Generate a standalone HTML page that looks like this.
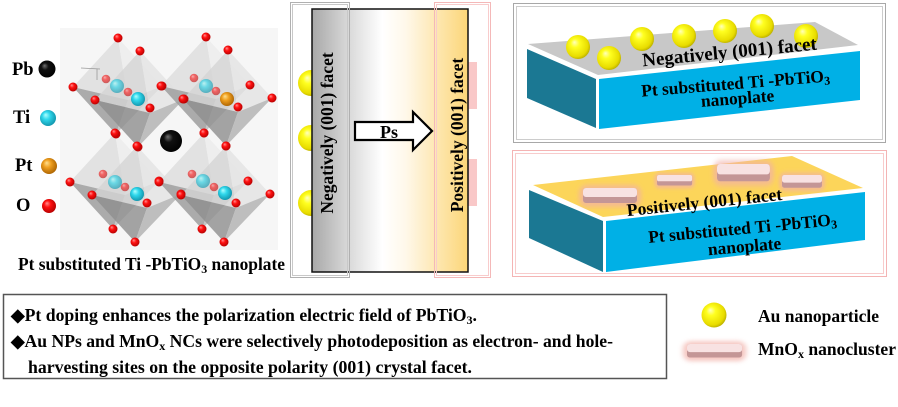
<!DOCTYPE html>
<html><head><meta charset="utf-8"><style>
html,body{margin:0;padding:0;background:#fff;}
svg{display:block;}
text{font-family:"Liberation Serif",serif;font-weight:bold;fill:#000;}
</style></head><body>
<svg width="898" height="407" viewBox="0 0 898 407" xmlns="http://www.w3.org/2000/svg">
<defs>
  <radialGradient id="gold" cx="0.45" cy="0.45" r="0.6" fx="0.35" fy="0.3">
    <stop offset="0" stop-color="#ffffc0"/><stop offset="0.3" stop-color="#ffff20"/>
    <stop offset="0.8" stop-color="#e8dc00"/><stop offset="1" stop-color="#b0a400"/>
  </radialGradient>
  <radialGradient id="red" cx="0.45" cy="0.45" r="0.6" fx="0.35" fy="0.3">
    <stop offset="0" stop-color="#ff9090"/><stop offset="0.4" stop-color="#ff1010"/><stop offset="1" stop-color="#b00000"/>
  </radialGradient>
  <radialGradient id="cyan" cx="0.45" cy="0.45" r="0.6" fx="0.35" fy="0.3">
    <stop offset="0" stop-color="#b0ffff"/><stop offset="0.4" stop-color="#30d8ec"/><stop offset="1" stop-color="#1090a8"/>
  </radialGradient>
  <radialGradient id="orange" cx="0.45" cy="0.45" r="0.6" fx="0.35" fy="0.3">
    <stop offset="0" stop-color="#ffe090"/><stop offset="0.4" stop-color="#f0a020"/><stop offset="1" stop-color="#a86000"/>
  </radialGradient>
  <radialGradient id="black" cx="0.45" cy="0.45" r="0.6" fx="0.35" fy="0.3">
    <stop offset="0" stop-color="#707070"/><stop offset="0.35" stop-color="#101010"/><stop offset="1" stop-color="#000"/>
  </radialGradient>
  <linearGradient id="mid" x1="0" y1="0" x2="1" y2="0">
    <stop offset="0" stop-color="#a8a8a8"/><stop offset="0.22" stop-color="#d6d6d6"/>
    <stop offset="0.45" stop-color="#ffffff"/><stop offset="0.6" stop-color="#fff8ea"/>
    <stop offset="1" stop-color="#fcd678"/>
  </linearGradient>
  <filter id="blur" x="-50%" y="-50%" width="200%" height="200%"><feGaussianBlur stdDeviation="2.5"/></filter>
  <g id="oct1">
    <polygon points="118,38 73,87 128,100" fill="#dedede" fill-opacity="0.85"/>
    <polygon points="118,38 128,100 162,86" fill="#ececec" fill-opacity="0.85"/>
    <polygon points="116,134 73,87 128,100" fill="#9e9e9e" fill-opacity="0.85"/>
    <polygon points="116,134 128,100 162,86" fill="#bdbdbd" fill-opacity="0.85"/>
  </g>
  <g id="oct2">
    <polygon points="140,51 95,100 150,113" fill="#d4d4d4" fill-opacity="0.8"/>
    <polygon points="140,51 150,113 184,99" fill="#e4e4e4" fill-opacity="0.8"/>
    <polygon points="138,147 95,100 150,113" fill="#8e8e8e" fill-opacity="0.8"/>
    <polygon points="138,147 150,113 184,99" fill="#b0b0b0" fill-opacity="0.8"/>
  </g>
  <g id="ored">
    <circle cx="106" cy="79" r="4.3" fill="url(#red)" opacity="0.6"/>
    <circle cx="128" cy="92" r="4.3" fill="url(#red)" opacity="0.6"/>
    <circle cx="118" cy="38" r="4.5" fill="url(#red)"/>
    <circle cx="140" cy="51" r="4.5" fill="url(#red)"/>
    <circle cx="73" cy="87" r="4.5" fill="url(#red)"/>
    <circle cx="95" cy="100" r="4.5" fill="url(#red)"/>
    <circle cx="162" cy="86" r="4.5" fill="url(#red)"/>
    <circle cx="184" cy="99" r="4.5" fill="url(#red)"/>
    <circle cx="150" cy="108" r="4.5" fill="url(#red)"/>
    <circle cx="116" cy="134" r="4.5" fill="url(#red)"/>
    <circle cx="138" cy="147" r="4.5" fill="url(#red)"/>
  </g>
  <g id="mnox">
    <rect x="-4" y="-3" width="62" height="22" rx="8" fill="#f2b0a8" opacity="0.7" filter="url(#blur)"/>
    <rect x="0" y="0" width="54" height="15" rx="3" fill="#c49696"/>
    <rect x="0" y="0" width="54" height="9" rx="3" fill="#f8e2e2"/>
  </g>
</defs>

<!-- LEFT: crystal -->
<rect x="60" y="28" width="218" height="222" fill="#f6f6f6"/>
<use href="#oct1"/><use href="#oct2"/>
<use href="#oct1" transform="translate(88,-1)"/><use href="#oct2" transform="translate(88,-1)"/>
<use href="#oct1" transform="translate(-3,95)"/><use href="#oct2" transform="translate(-3,95)"/>
<use href="#oct1" transform="translate(86,95)"/><use href="#oct2" transform="translate(86,95)"/>
<use href="#ored"/>
<use href="#ored" transform="translate(88,-1)"/>
<use href="#ored" transform="translate(-3,95)"/>
<use href="#ored" transform="translate(86,95)"/>
<circle cx="117" cy="86" r="7" fill="url(#cyan)" opacity="0.65"/>
<circle cx="138" cy="99" r="7" fill="url(#cyan)"/>
<circle cx="206" cy="86" r="7" fill="url(#cyan)" opacity="0.65"/>
<circle cx="227" cy="99" r="7" fill="url(#orange)"/>
<circle cx="115" cy="182" r="7" fill="url(#cyan)" opacity="0.65"/>
<circle cx="137" cy="194" r="7" fill="url(#cyan)"/>
<circle cx="203" cy="181" r="7" fill="url(#cyan)" opacity="0.65"/>
<circle cx="225" cy="193" r="7" fill="url(#cyan)"/>
<circle cx="171" cy="141" r="11" fill="url(#black)"/>
<path d="M81,68 L100,69 M97,69 L97,80" stroke="#999" stroke-width="0.8" fill="none"/>

<text x="12" y="75" font-size="18.5">Pb</text>
<circle cx="47" cy="69" r="8.5" fill="url(#black)"/>
<text x="13" y="123" font-size="18.5">Ti</text>
<circle cx="48" cy="118" r="8" fill="url(#cyan)"/>
<text x="15" y="171" font-size="18.5">Pt</text>
<circle cx="49" cy="166" r="8" fill="url(#orange)"/>
<text x="16" y="211" font-size="18.5">O</text>
<circle cx="49" cy="206" r="7" fill="url(#red)"/>

<text x="18" y="270" font-size="17.5" textLength="267" lengthAdjust="spacingAndGlyphs">Pt substituted Ti -PbTiO<tspan font-size="12" dy="3">3</tspan><tspan dy="-3"> nanoplate</tspan></text>

<!-- MIDDLE -->
<circle cx="311" cy="83" r="13" fill="url(#gold)"/>
<circle cx="311" cy="138" r="13" fill="url(#gold)"/>
<circle cx="311" cy="203" r="13" fill="url(#gold)"/>
<rect x="468" y="62" width="9" height="47" fill="#f9c8c8"/>
<rect x="468" y="159" width="9" height="47" fill="#f9c8c8"/>
<rect x="312" y="9" width="156" height="263" fill="url(#mid)" stroke="#111" stroke-width="1.5"/>
<rect x="290.5" y="2.5" width="59" height="275" fill="none" stroke="#b0b0b0" stroke-width="1"/>
<rect x="292.5" y="4.5" width="55" height="271" fill="none" stroke="#c8c8c8" stroke-width="1"/>
<rect x="434.5" y="2.5" width="56" height="275" fill="none" stroke="#f4b8b8" stroke-width="1"/>
<rect x="436.5" y="4.5" width="52" height="271" fill="none" stroke="#f8cccc" stroke-width="1"/>
<text transform="translate(333,133) rotate(-90)" text-anchor="middle" font-size="17.5">Negatively (001) facet</text>
<text transform="translate(463,135) rotate(-90)" text-anchor="middle" font-size="17.5">Positively (001) facet</text>
<polygon points="355,122 413,122 413,112 432,131 413,150 413,140 355,140" fill="#fff" stroke="#000" stroke-width="2.2" stroke-linejoin="miter"/>
<text x="389" y="138" text-anchor="middle" font-size="18">Ps</text>

<!-- TOP RIGHT -->
<rect x="513.5" y="3.5" width="372" height="139" fill="none" stroke="#a8a8a8" stroke-width="1"/>
<rect x="516.5" y="6.5" width="366" height="133" fill="none" stroke="#cccccc" stroke-width="1"/>
<polygon points="528,44 815,22 858,45 598,75" fill="#c8c8c8"/>
<polygon points="527,49 596,79 596,128 527,98" fill="#1b7893"/>
<polygon points="599,79 860,51 860,100 599,129" fill="#00b0e6"/>
<circle cx="578" cy="47" r="12" fill="url(#gold)"/>
<circle cx="609" cy="58" r="12" fill="url(#gold)"/>
<circle cx="642" cy="39" r="12" fill="url(#gold)"/>
<circle cx="684" cy="36" r="12" fill="url(#gold)"/>
<circle cx="725" cy="31" r="12" fill="url(#gold)"/>
<circle cx="762" cy="26" r="12" fill="url(#gold)"/>
<circle cx="806" cy="36" r="12" fill="url(#gold)"/>
<text transform="translate(730,58) rotate(-5.5)" text-anchor="middle" font-size="19">Negatively (001) facet</text>
<text transform="translate(736,89) rotate(-4.6)" text-anchor="middle" font-size="17.4">Pt substituted Ti -PbTiO<tspan font-size="12" dy="3">3</tspan></text>
<text transform="translate(738,104) rotate(-4.5)" text-anchor="middle" font-size="17.4">nanoplate</text>

<!-- BOTTOM RIGHT -->
<rect x="512.5" y="150.5" width="374" height="126" fill="none" stroke="#f4b4b4" stroke-width="1"/>
<rect x="515.5" y="153.5" width="368" height="120" fill="none" stroke="#f8cccc" stroke-width="1"/>
<polygon points="533,185 792,156 863,188 603,217" fill="#fcd55a"/>
<polygon points="529,190 603,221 603,272 529,238" fill="#1b7893"/>
<polygon points="606,221 865,192 865,240 606,272" fill="#00b0e6"/>
<use href="#mnox" transform="translate(583,188)"/>
<use href="#mnox" transform="translate(657,175) scale(0.65,0.7)"/>
<use href="#mnox" transform="translate(717,164) scale(0.98,1.15)"/>
<use href="#mnox" transform="translate(782,175) scale(0.74,0.85)"/>
<text transform="translate(705,208) rotate(-6)" text-anchor="middle" font-size="17.7">Positively (001) facet</text>
<text transform="translate(743,234) rotate(-5.4)" text-anchor="middle" font-size="17.4">Pt substituted Ti -PbTiO<tspan font-size="12" dy="3">3</tspan></text>
<text transform="translate(745,252) rotate(-5)" text-anchor="middle" font-size="17.4">nanoplate</text>

<!-- TEXT BOX -->
<rect x="3.5" y="294.5" width="663" height="84" fill="#fff" stroke="#555" stroke-width="1.5"/>
<text x="11" y="321" font-size="17.5" textLength="466" lengthAdjust="spacingAndGlyphs">◆Pt doping enhances the polarization electric field of PbTiO<tspan font-size="12" dy="3">3</tspan><tspan dy="-3">.</tspan></text>
<text x="11" y="347" font-size="17.5" textLength="602" lengthAdjust="spacingAndGlyphs">◆Au NPs and MnO<tspan font-size="12" dy="3">x</tspan><tspan dy="-3"> NCs were selectively photodeposition as electron- and hole-</tspan></text>
<text x="28" y="373" font-size="17.5" textLength="444" lengthAdjust="spacingAndGlyphs">harvesting sites on the opposite polarity (001) crystal facet.</text>

<!-- LEGEND -->
<circle cx="714" cy="315" r="12.5" fill="url(#gold)"/>
<text x="758" y="322" font-size="17.5" textLength="121" lengthAdjust="spacingAndGlyphs">Au nanoparticle</text>
<use href="#mnox" transform="translate(687,344) scale(1.02,0.9)"/>
<text x="758" y="355" font-size="17.5" textLength="138" lengthAdjust="spacingAndGlyphs">MnO<tspan font-size="12" dy="3">x</tspan><tspan dy="-3"> nanocluster</tspan></text>
</svg>
</body></html>
